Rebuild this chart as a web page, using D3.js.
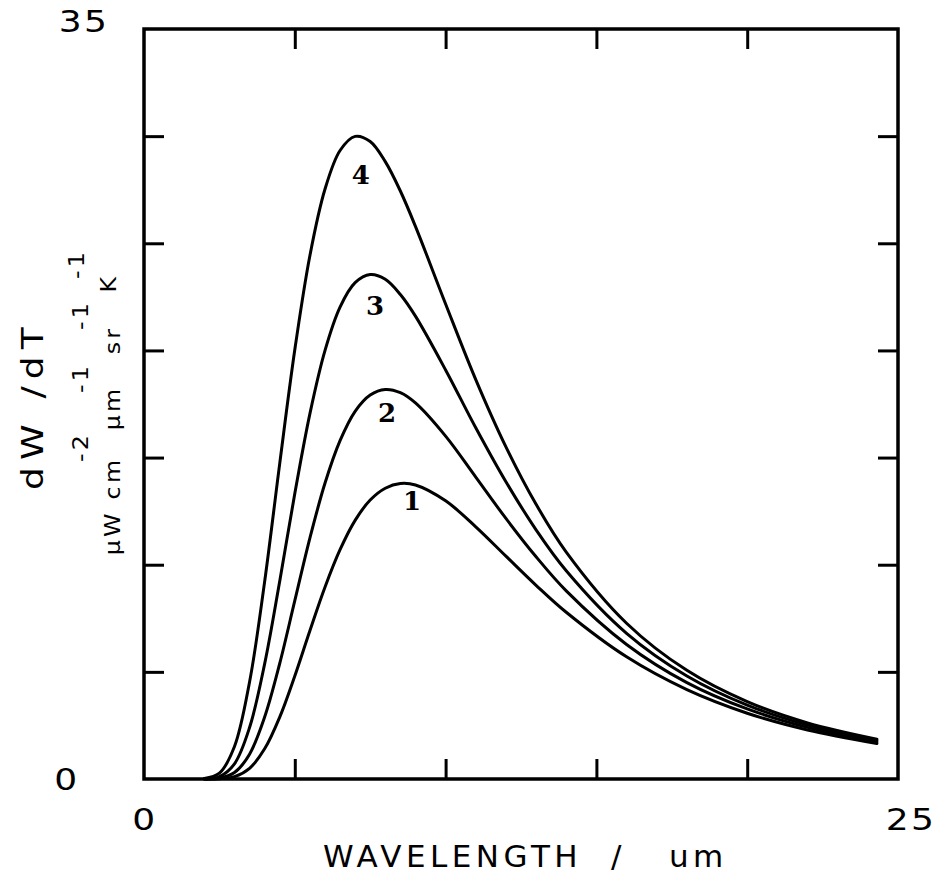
<!DOCTYPE html>
<html>
<head>
<meta charset="utf-8">
<script src="https://cdn.jsdelivr.net/npm/d3@7"></script>
<style>
  body { margin: 0; background: #fff; }
  text { fill: #000; }
</style>
</head>
<body>
<div id="chart"></div>
<script>
// values: wavelength (um) and dW/dT for the four curves
const wavelengths = [2, 2.5, 3, 3.5, 4, 4.5, 5, 5.5, 6, 6.5, 7, 7.5, 8, 8.5, 9, 10, 11, 12, 13, 14, 16, 18, 20, 22, 24.3];
const curve1 = [0.00, 0.01, 0.11, 0.50, 1.41, 2.89, 4.81, 6.92, 8.95, 10.70, 12.07, 13.02, 13.57, 13.79, 13.72, 12.98, 11.77, 10.40, 9.04, 7.78, 5.70, 4.17, 3.07, 2.29, 1.66];
const curve2 = [0.00, 0.04, 0.30, 1.16, 2.89, 5.39, 8.32, 11.24, 13.80, 15.79, 17.16, 17.92, 18.18, 18.03, 17.55, 16.00, 14.09, 12.16, 10.37, 8.78, 6.28, 4.50, 3.27, 2.41, 1.73];
const curve3 = [0.00, 0.11, 0.71, 2.40, 5.37, 9.23, 13.32, 17.04, 19.99, 22.02, 23.16, 23.54, 23.32, 22.61, 21.60, 19.09, 16.39, 13.87, 11.63, 9.72, 6.80, 4.81, 3.45, 2.52, 1.80];
const curve4 = [0.02, 0.27, 1.52, 4.53, 9.21, 14.72, 20.03, 24.42, 27.52, 29.33, 29.99, 29.75, 28.81, 27.44, 25.79, 22.17, 18.64, 15.50, 12.82, 10.59, 7.27, 5.07, 3.61, 2.62, 1.86];
const curveNames = ["1", "2", "3", "4"];

const xTicks = [5, 10, 15, 20];
const yTicks = [5, 10, 15, 20, 25, 30];
const xTickLabels = [0, 25];
const yTickLabels = [0, 35];

const margin = {top: 29, right: 53, bottom: 110, left: 144};
const width = 754, height = 750;

const svg = d3.select("#chart")
    .append("svg")
    .attr("width", width + margin.left + margin.right)
    .attr("height", height + margin.top + margin.bottom)
    .style("font-family", "'DejaVu Sans', sans-serif");

const g = svg.append("g")
    .attr("transform", `translate(${margin.left},${margin.top})`);

const x = d3.scaleLinear().domain([0, 25]).range([0, width]);
const y = d3.scaleLinear().domain([0, 35]).range([height, 0]);

// inward ticks on all four sides
const tick = 20;
g.append("g").attr("transform", `translate(0,${height})`)
    .call(d3.axisBottom(x).tickValues(xTicks).tickSize(-tick).tickFormat(""));
g.append("g")
    .call(d3.axisTop(x).tickValues(xTicks).tickSize(-tick).tickFormat(""));
g.append("g")
    .call(d3.axisLeft(y).tickValues(yTicks).tickSize(-tick).tickFormat(""));
g.append("g").attr("transform", `translate(${width},0)`)
    .call(d3.axisRight(y).tickValues(yTicks).tickSize(-tick).tickFormat(""));
g.selectAll(".domain").remove();
g.selectAll(".tick line").attr("stroke", "#000").attr("stroke-width", 3);

g.append("rect")
    .attr("width", width)
    .attr("height", height)
    .attr("fill", "none")
    .attr("stroke", "#000")
    .attr("stroke-width", 3.5);

// curves
const line = d3.line()
    .x(d => x(d[0]))
    .y(d => y(d[1]))
    .curve(d3.curveCatmullRom.alpha(0.5));

[curve1, curve2, curve3, curve4].forEach(vals => {
    g.append("path")
        .datum(wavelengths.map((w, i) => [w, vals[i]]))
        .attr("fill", "none")
        .attr("stroke", "#000")
        .attr("stroke-width", 3)
        .attr("stroke-linejoin", "round")
        .attr("stroke-linecap", "round")
        .attr("d", line);
});

// curve numbers, placed just under each peak
const labelAt = [[8.89, 13.0], [8.06, 17.1], [7.66, 22.1], [7.19, 28.2]];
g.selectAll(".curve-label")
    .data(curveNames)
    .enter().append("text")
    .attr("class", "curve-label")
    .attr("x", (d, i) => x(labelAt[i][0]))
    .attr("y", (d, i) => y(labelAt[i][1]))
    .attr("dy", "0.36em")
    .attr("text-anchor", "middle")
    .style("font-family", "'DejaVu Serif', serif")
    .style("font-weight", "bold")
    .style("font-size", "26px")
    .text(d => d);

// tick labels (wide plotter-style digits)
const wide = "scale(1.2,1)";
g.selectAll(".xlab")
    .data(xTickLabels)
    .enter().append("text")
    .attr("transform", d => `translate(${x(d) + (d === 0 ? 1 : 13)},${height + 51}) ${wide}`)
    .attr("text-anchor", "middle")
    .style("font-size", "30px")
    .style("letter-spacing", "2px")
    .text(d => d);

g.selectAll(".ylab")
    .data(yTickLabels)
    .enter().append("text")
    .attr("transform", d => `translate(${d === 0 ? -77 : -60},${y(d) + (d === 0 ? 11 : 3)}) ${wide}`)
    .attr("text-anchor", "middle")
    .style("font-size", "30px")
    .style("letter-spacing", "2px")
    .text(d => d);

// axis titles
svg.append("text")
    .attr("transform", "translate(323,867)")
    .attr("text-anchor", "start")
    .style("font-size", "31px")
    .style("letter-spacing", "4.5px")
    .style("white-space", "pre")
    .text("WAVELENGTH  /   um");

svg.append("text")
    .attr("transform", "translate(43,490) rotate(-90) scale(1.2,1)")
    .attr("text-anchor", "start")
    .style("font-size", "30px")
    .style("letter-spacing", "6px")
    .text("dW /dT");

// units line with raised exponents
const unitParts = [
    {t: "µW cm", c: 506, b: 120},
    {t: "-2", c: 447, b: 88},
    {t: "µm", c: 408, b: 120},
    {t: "-1", c: 378, b: 88},
    {t: "sr", c: 340, b: 120},
    {t: "-1", c: 315, b: 88},
    {t: "K", c: 283, b: 116},
    {t: "-1", c: 264, b: 84}
];
svg.selectAll(".unit")
    .data(unitParts)
    .enter().append("text")
    .attr("class", "unit")
    .attr("transform", d => `translate(${d.b},${d.c}) rotate(-90) scale(1.08,1)`)
    .attr("text-anchor", "middle")
    .style("font-size", "22px")
    .style("letter-spacing", "3px")
    .text(d => d.t);
</script>
</body>
</html>
